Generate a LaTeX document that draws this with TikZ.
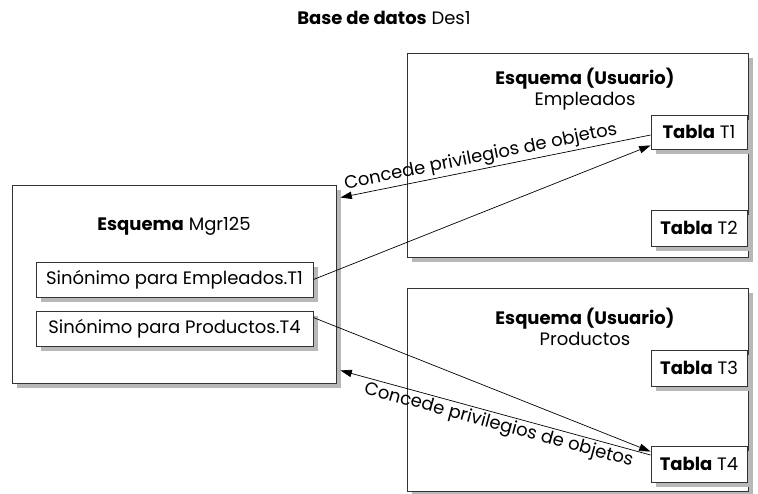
\documentclass[tikz,border=0pt]{standalone}
\usepackage{fontspec}
\setmainfont{Poppins}
\usepackage{tikz}
\usetikzlibrary{arrows.meta, positioning}
\pgfdeclarelayer{bgshade}
\pgfdeclarelayer{bg}
\pgfdeclarelayer{itemshade}
\pgfsetlayers{bgshade,bg,itemshade,main}

\begin{document}
\begin{tikzpicture}[
        x=1pt, y=-1pt,
        font=\fontsize{18}{21}\selectfont,
        schema/.style={rectangle, draw=black!80, fill=white, line width=0.9pt},
        item/.style={rectangle, draw=black!80, fill=white, line width=0.9pt, inner sep=0pt},
        shade/.style={fill=black!28},
        arrow/.style={-{Triangle[length=4mm, width=2.6mm]}, line width=0.7pt},
        grant/.style={sloped, inner sep=2pt}
    ]
        \useasboundingbox (0,0) rectangle (758,493);

        \node (db) at (384,18) {\textbf{Base de datos} Des1};

        % schema boxes
        \begin{pgfonlayer}{bg}
            \node[schema, minimum width=324pt, minimum height=198pt] (mgr) at (174,284) {};
            \node[schema, minimum width=341pt, minimum height=204pt] (emp) at (577.5,155) {};
            \node[schema, minimum width=341pt, minimum height=203pt] (prod) at (577.5,389.5) {};
        \end{pgfonlayer}

        \node (mgrtitle) at (174,226) {\textbf{Esquema} Mgr125};
        \node[align=center] (emptitle) at (585,89) {\textbf{Esquema (Usuario)}\\Empleados};
        \node[align=center] (prodtitle) at (585,327) {\textbf{Esquema (Usuario)}\\Productos};

        % synonyms
        \node[item, minimum width=277pt, minimum height=35pt] (synemp) at (174.5,279.5) {Sinónimo para Empleados.T1};
        \node[item, minimum width=277pt, minimum height=35pt] (synprod) at (174.5,328.5) {Sinónimo para Productos.T4};

        % tables
        \node[item, minimum width=96pt, minimum height=34pt] (t1) at (699,132) {\textbf{Tabla} T1};
        \node[item, minimum width=96pt, minimum height=36pt] (t2) at (699,228) {\textbf{Tabla} T2};
        \node[item, minimum width=96pt, minimum height=36pt] (t3) at (699,368) {\textbf{Tabla} T3};
        \node[item, minimum width=96pt, minimum height=36pt] (t4) at (699,464) {\textbf{Tabla} T4};

        % shadows
        \begin{pgfonlayer}{bgshade}
            \foreach \n in {mgr, emp, prod}
                \fill[shade] ([shift={(5,5)}]\n.north west) rectangle ([shift={(5,5)}]\n.south east);
        \end{pgfonlayer}
        \begin{pgfonlayer}{itemshade}
            \foreach \n in {synemp, synprod, t1, t2, t3, t4}
                \fill[shade] ([shift={(5,5)}]\n.north west) rectangle ([shift={(5,5)}]\n.south east);
        \end{pgfonlayer}

        % connectors
        \draw[arrow] ([yshift=-3pt]t1.west) -- node[grant, above, pos=0.54] {Concede privilegios de objetos} ([shift={(4,13)}]mgr.north east);
        \draw[arrow] (synemp.east) -- ([yshift=4pt]t1.south west);
        \draw[arrow] ([yshift=-7pt]synprod.north east) -- ([yshift=-6pt]t4.north west);
        \draw[arrow] ([yshift=9pt]t4.west) -- node[grant, below, pos=0.48] {Concede privilegios de objetos} ([shift={(4,-13)}]mgr.south east);
    \end{tikzpicture}
\end{document}
